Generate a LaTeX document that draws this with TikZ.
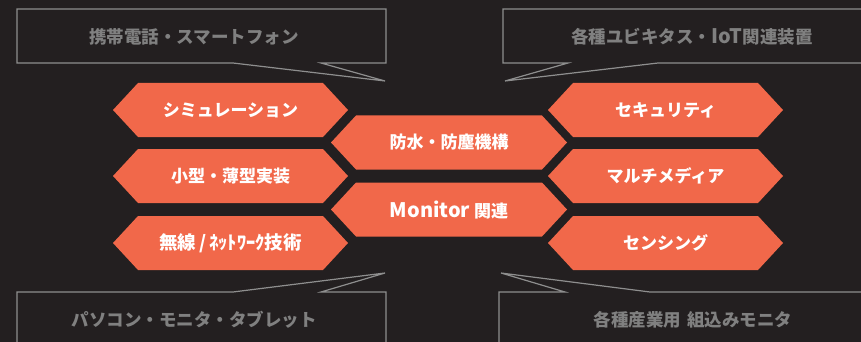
\documentclass[tikz,border=0pt]{standalone}
\usepackage{fontspec}
\newfontfamily\jp{Noto Sans CJK JP}
\definecolor{bg}{HTML}{231F20}
\definecolor{hexc}{HTML}{F1684A}
\definecolor{lin}{HTML}{8E8E8E}
\definecolor{gtxt}{HTML}{808080}
\tikzset{
  hexlabel/.style={text=white, font=\jp\bfseries\fontsize{17}{17}\selectfont, inner sep=0pt},
  calltext/.style={text=gtxt, font=\jp\bfseries\fontsize{17.5}{17.5}\selectfont, inner sep=0pt},
  callout/.style={draw=lin, line width=1.2pt, line join=miter}
}
\newcommand\hexagon[5]{%
  \fill[hexc] (#2,#4) -- (#2+25,#4-27) -- (#3-25,#4-27) -- (#3,#4) -- (#3-25,#4+27) -- (#2+25,#4+27) -- cycle;
  \node[hexlabel] (#1) at ({(#2+#3)/2},#4) {#5};}
\newcommand\biglatin[1]{{\fontsize{20}{20}\selectfont #1}}
\begin{document}
\begin{tikzpicture}[x=1pt,y=-1pt]
\fill[bg] (0,0) rectangle (861,342);
\useasboundingbox (0,0) rectangle (861,342);
% callouts
\draw[callout] (321,63) -- (386,63) -- (386,9) -- (17,9) -- (17,63) -- (233,63) -- (385,81) -- cycle;
\node[calltext] (tl) at (194,37) {携帯電話・スマートフォン};
\draw[callout] (870,9) -- (503,9) -- (503,63) -- (568,63) -- (505,81) -- (658,63) -- (870,63);
\node[calltext] (tr) at (692,37) {各種ユビキタス・\biglatin{IoT}関連装置};
\draw[callout] (17,350) -- (17,292) -- (233,292) -- (385,273) -- (321,292) -- (386,292) -- (386,350);
\node[calltext] (bl) at (194,320) {パソコン・モニタ・タブレット};
\draw[callout] (499,350) -- (499,292) -- (565,292) -- (501,273) -- (650,292) -- (870,292);
\node[calltext] (br) at (693,320) {各種産業用\,\,組込みモニタ};
% hexagons
\hexagon{sim}{113}{348}{110}{シミュレーション}
\hexagon{thin}{113}{348}{176}{小型・薄型実装}
\hexagon{net}{113}{348}{243}{\fontsize{18.5}{18.5}\selectfont 無線\,/\,ﾈｯﾄﾜｰｸ技術}
\hexagon{bou}{331}{567}{142.5}{防水・防塵機構}
\hexagon{mon}{331}{567}{209.5}{\biglatin{Monitor} 関連}
\hexagon{sec}{548}{783}{110}{セキュリティ}
\hexagon{mm}{548}{783}{176}{マルチメディア}
\hexagon{sens}{548}{783}{243}{センシング}
\end{tikzpicture}
\end{document}
